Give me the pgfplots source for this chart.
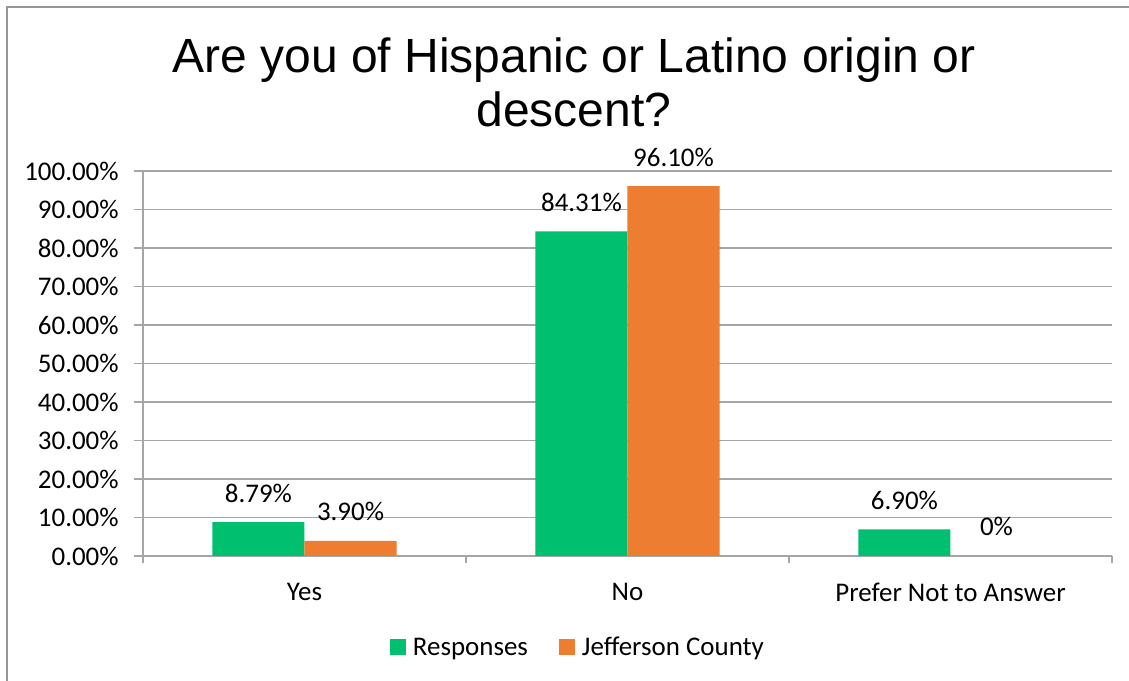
\documentclass[border=0pt]{standalone}
\usepackage{pgfplots}
\pgfplotsset{compat=1.18}
\usepackage{fontspec}
\setmainfont{Carlito}
\newfontfamily\titlefont{Liberation Sans}
\definecolor{resp}{RGB}{0,191,111}
\definecolor{jeff}{RGB}{237,125,49}
\definecolor{gridc}{RGB}{166,166,166}
\definecolor{framec}{RGB}{150,150,150}
\begin{document}
\begin{tikzpicture}
\path[use as bounding box] (-107.25pt,-93.75pt) rectangle (739.5pt,417pt);
\draw[framec, line width=1.2pt] (-102pt,-100pt) -- (-102pt,411.75pt) -- (739.5pt,411.75pt);
\node[font=\titlefont\fontsize{36}{40}\selectfont, anchor=base] at (323.25pt,362.25pt) {Are you of Hispanic or Latino origin or};
\node[font=\titlefont\fontsize{36}{40}\selectfont, anchor=base] at (323.25pt,321.75pt) {descent?};
\begin{axis}[
  at={(0pt,0pt)}, anchor=south west,
  scale only axis, width=726.75pt, height=288.75pt,
  ybar=0pt, bar width=0.285,
  xmin=-0.5, xmax=2.5, ymin=0, ymax=100,
  xtick={0,1,2}, xticklabels={Yes,No,Prefer Not to Answer},
  minor xtick={-0.5,0.5,1.5,2.5},
  ytick={0,10,...,100},
  yticklabels={0.00\%,10.00\%,20.00\%,30.00\%,40.00\%,50.00\%,60.00\%,70.00\%,80.00\%,90.00\%,100.00\%},
  axis lines*=left,
  axis line style={gridc, line width=0.8pt, -},
  ymajorgrids, grid style={gridc, line width=0.8pt},
  tick align=outside,
  major tick length=6.75pt, minor tick length=5.25pt,
  major x tick style={draw=none},
  minor x tick style={gridc, line width=0.8pt},
  ytick style={gridc, line width=0.8pt},
  tick label style={font=\fontsize{20.2}{24}\selectfont},
  yticklabel style={xshift=-8pt},
  xticklabel style={yshift=-10pt},
  /pgf/number format/assume math mode=true,
  point meta=explicit symbolic,
  nodes near coords,
  every node near coord/.append style={font=\fontsize{20.2}{24}\selectfont, anchor=base, yshift=15pt, inner sep=0pt, text=black},
  legend columns=2,
  legend style={draw=none, at={(rel axis cs:0.449,-0.238)}, anchor=center, font=\fontsize{20.2}{24}\selectfont,
    /tikz/every even column/.append style={column sep=21pt}},
  legend image code/.code={\fill[#1] (0pt,-5.5pt) rectangle (12pt,6.5pt); \path (15.5pt,0pt);},
  clip=false,
]
\addplot[fill=resp, draw=none] coordinates {(0,8.79) [8.79\%] (1,84.31) [84.31\%] (2,6.90) [6.90\%]};
\addplot[fill=jeff, draw=none] coordinates {(0,3.90) [3.90\%] (1,96.10) [96.10\%] (2,0) [0\%]};
\legend{Responses, Jefferson County}
\end{axis}
\end{tikzpicture}
\end{document}
